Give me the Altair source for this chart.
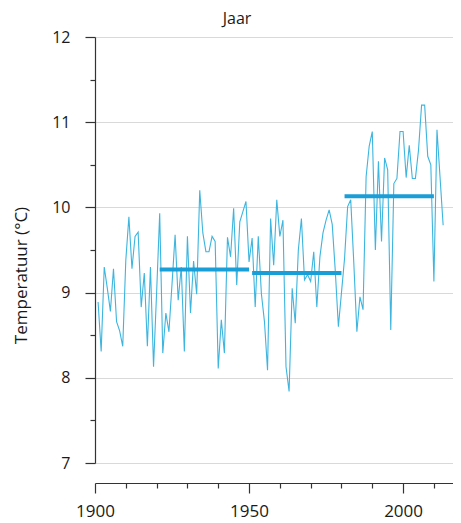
import altair as alt
import pandas as pd

years = list(range(1901, 2014))
temps = [
    8.89, 8.31, 9.30, 9.05, 8.78, 9.28, 8.66, 8.55, 8.37, 9.38,   # 1901-1910
    9.89, 9.28, 9.66, 9.71, 8.83, 9.23, 8.37, 9.30, 8.13, 9.00,   # 1911-1920
    9.93, 8.29, 8.76, 8.54, 9.10, 9.68, 8.91, 9.30, 8.31, 9.66,   # 1921-1930
    8.76, 9.37, 8.98, 10.20, 9.70, 9.48, 9.48, 9.66, 9.60, 8.11,  # 1931-1940
    8.68, 8.29, 9.65, 9.42, 9.99, 9.09, 9.83, 9.95, 10.07, 9.36,  # 1941-1950
    9.64, 8.83, 9.66, 8.99, 8.66, 8.09, 9.87, 9.32, 10.09, 9.66,  # 1951-1960
    9.85, 8.13, 7.84, 9.05, 8.64, 9.50, 9.87, 9.15, 9.21, 9.13,   # 1961-1970
    9.48, 8.83, 9.42, 9.70, 9.85, 9.97, 9.80, 9.25, 8.60, 9.00,   # 1971-1980
    9.40, 10.01, 10.09, 9.35, 8.54, 8.95, 8.80, 10.36, 10.72, 10.89,  # 1981-1990
    9.50, 10.54, 9.60, 10.58, 10.44, 8.56, 10.28, 10.34, 10.89, 10.89,  # 1991-2000
    10.35, 10.73, 10.34, 10.34, 10.67, 11.20, 11.20, 10.60, 10.50, 9.13,  # 2001-2010
    10.91, 10.35, 9.79,  # 2011-2013
]
period_start = [1921, 1951, 1981]
period_end = [1950, 1980, 2010]
period_mean = [9.27, 9.23, 10.13]

df = pd.DataFrame({"jaar": years, "temp": temps})
dm = pd.DataFrame({"start": period_start, "end": period_end, "mean": period_mean})

FONT = "Open Sans"
TXT = "#1a1a1a"

xscale = alt.Scale(domain=[1900, 2016.2], nice=False, zero=False)
yscale = alt.Scale(domain=[7, 12], nice=False, zero=False)

xaxis = alt.Axis(
    values=list(range(1900, 2020, 10)),
    format="d",
    labelExpr="datum.value % 50 === 0 ? datum.label : ''",
    tickSize={"condition": {"test": "datum.value % 50 === 0", "value": 10}, "value": 5},
    offset=20,
    grid=False,
    title=None,
    domainColor="#333333",
    tickColor="#333333",
    domainWidth=1.2,
    tickWidth=1.2,
    labelFont=FONT,
    labelFontSize=17,
    labelColor=TXT,
    labelPadding=10,
    labelFlush=False,
    labelOverlap=False,
)

yaxis = alt.Axis(
    values=[7, 7.5, 8, 8.5, 9, 9.5, 10, 10.5, 11, 11.5, 12],
    labelExpr="datum.value % 1 === 0 ? format(datum.value, 'd') : ''",
    tickSize={"condition": {"test": "datum.value % 1 === 0", "value": 10}, "value": 5},
    gridOpacity={"condition": {"test": "datum.value % 1 === 0", "value": 1}, "value": 0},
    grid=True,
    gridColor="#d9d9d9",
    gridWidth=1,
    domainColor="#333333",
    tickColor="#333333",
    domainWidth=1.2,
    tickWidth=1.2,
    labelFont=FONT,
    labelFontSize=16,
    labelColor=TXT,
    labelPadding=15,
    labelOverlap=False,
    title="Temperatuur (°C)",
    titleFont=FONT,
    titleFontSize=17,
    titleFontWeight="normal",
    titleColor=TXT,
    titleX=-65,
    titleY=238,
)

line = alt.Chart(df).mark_line(color="#3db5de", strokeWidth=1.1).encode(
    x=alt.X("jaar:Q", scale=xscale, axis=xaxis),
    y=alt.Y("temp:Q", scale=yscale, axis=yaxis),
)

bars = alt.Chart(dm).mark_rule(color="#1a9ed8", strokeWidth=4).encode(
    x=alt.X("start:Q", scale=xscale, axis=xaxis),
    x2="end:Q",
    y=alt.Y("mean:Q", scale=yscale, axis=yaxis),
)

chart = alt.layer(line, bars).properties(
    width=358,
    height=426,
    title=alt.TitleParams(
        "Jaar", font=FONT, fontSize=16, fontWeight="normal", color=TXT,
        anchor="middle", dx=-37, offset=2,
    ),
    autosize=alt.AutoSizeParams(type="none"),
    padding={"left": 87, "top": 29, "right": 0, "bottom": 58},
).configure_view(stroke=None)

chart.save("out.html", embed_options={"renderer": "svg", "actions": False})
